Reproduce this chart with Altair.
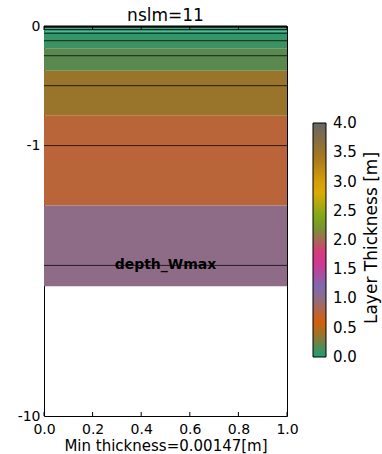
import math
import altair as alt
import pandas as pd

# ---------------- data ----------------
title_text = "nslm=11"
x_title = "Min thickness=0.00147[m]"
cbar_title = "Layer Thickness [m]"
wmax_label = "depth_Wmax"

# soil layer interfaces (m, positive downward)
layer_interfaces = [0.0, 0.00098, 0.0039, 0.0098, 0.0215, 0.045, 0.0919,
                    0.1857, 0.3734, 0.7488, 1.4995, 2.5005]
# node depths (m) drawn as thin lines
node_depths = [0.0, 0.00196, 0.00587, 0.0137, 0.0293, 0.0606, 0.1232,
               0.2483, 0.4985, 0.999, 2.0]
depth_wmax = [2.0]

y_tick_depths = [0, 1, 10]
y_tick_labels = ["0", "-1", "-10"]
x_tick_values = [0.0, 0.2, 0.4, 0.6, 0.8, 1.0]
cbar_ticks = [0.0, 0.5, 1.0, 1.5, 2.0, 2.5, 3.0, 3.5, 4.0]
dark2 = ["#1b9e77", "#d95f02", "#7570b3", "#e7298a",
         "#66a61e", "#e6ab02", "#a6761d", "#666666"]
cmin, cmax = 0.0, 4.0

# ---------------- symlog (matplotlib style, linthresh=2) ----------------
LINTHRESH = 2.0
K = 1.0 / (1.0 - 1.0 / 10.0)


def symlog(d):
    if d <= LINTHRESH:
        return d / LINTHRESH * K
    return K + math.log10(d / LINTHRESH)


def sym_expr(f):
    return (f"(datum.{f} <= {LINTHRESH} ? datum.{f} / {LINTHRESH} * {K} : "
            f"{K} + log(datum.{f} / {LINTHRESH}) / LN10)")


y_max = symlog(max(y_tick_depths))
y_vals = [symlog(d) for d in y_tick_depths]
label_expr = " : ".join(
    f"abs(datum.value - {v}) < 1e-6 ? '{lab}'" for v, lab in zip(y_vals, y_tick_labels)
) + " : ''"

W, H = 243, 390
FONT = "DejaVu Sans"

layers = pd.DataFrame({"top": layer_interfaces[:-1], "bottom": layer_interfaces[1:]})
layers["thickness"] = layers["bottom"] - layers["top"]
nodes = pd.DataFrame({"depth": node_depths})
wmax = pd.DataFrame({"depth": depth_wmax, "label": [wmax_label]})
xt = pd.DataFrame({"x": x_tick_values})
cb_title = pd.DataFrame({"t": [cbar_title]})

xscale = alt.Scale(domain=[0, 1], nice=False, zero=False)
yscale = alt.Scale(domain=[0, y_max], reverse=True, nice=False, zero=False)

x_axis = alt.Axis(values=x_tick_values, format=".1f", ticks=False, domain=False,
                  grid=False, labelFontSize=14, labelPadding=6, labelFlush=False,
                  labelOverlap=False, title=x_title, titleFontSize=15,
                  titleFontWeight="normal", titlePadding=2)
y_axis = alt.Axis(values=y_vals, labelExpr=label_expr, ticks=False, domain=False,
                  grid=False, labelFontSize=14, labelPadding=4, labelFlush=False,
                  labelOverlap=False, title=None)

# colour stops spread evenly over the colour range (tiny margin keeps end labels centred)
eps = 0.002
stops = [cmin + (cmax - cmin) * i / 7 for i in range(8)]
stops[0] -= eps
stops[-1] += eps
color_scale = alt.Scale(domain=stops, range=dark2, interpolate="rgb")
legend = alt.Legend(title=None, orient="none", legendX=269, legendY=97,
                    direction="vertical", gradientLength=234, gradientThickness=13,
                    gradientStrokeColor="black", gradientStrokeWidth=1,
                    values=cbar_ticks, format=".1f", labelFontSize=15, labelOffset=7,
                    labelOverlap=False)

rects = alt.Chart(layers).transform_calculate(
    y0=sym_expr("top"), y1=sym_expr("bottom")
).mark_rect().encode(
    x=alt.X(datum=0, type="quantitative", scale=xscale, axis=x_axis),
    x2=alt.X2(datum=1),
    y=alt.Y("y0:Q", scale=yscale, axis=y_axis),
    y2="y1:Q",
    color=alt.Color("thickness:Q", scale=color_scale, legend=legend),
)

lines = alt.Chart(nodes).transform_calculate(
    yy=sym_expr("depth")
).mark_rule(color="black", strokeWidth=1, opacity=0.75).encode(
    x=alt.X(datum=0, type="quantitative"),
    x2=alt.X2(datum=1),
    y="yy:Q",
)

text = alt.Chart(wmax).transform_calculate(
    yy=sym_expr("depth")
).mark_text(font=FONT, fontSize=14, fontWeight="bold", color="black",
            baseline="middle", align="center").encode(
    x=alt.X(datum=0.5, type="quantitative"),
    y="yy:Q",
    text="label:N",
)

cbar_label = alt.Chart(cb_title).mark_text(
    font=FONT, fontSize=17, color="black", angle=270,
    baseline="middle", align="center"
).encode(x=alt.value(328), y=alt.value(212), text="t:N")

ticks_top = alt.Chart(xt).mark_rule(color="black", strokeWidth=1).encode(
    x="x:Q", y=alt.value(0), y2=alt.value(4))
ticks_bot = alt.Chart(xt).mark_rule(color="black", strokeWidth=1).encode(
    x="x:Q", y=alt.value(H - 4), y2=alt.value(H))

chart = alt.layer(rects, lines, text, ticks_top, ticks_bot, cbar_label).properties(
    width=W, height=H,
    title=alt.TitleParams(title_text, fontSize=17, fontWeight="normal", font=FONT,
                          anchor="middle", offset=4, dy=10, color="black"),
    autosize=alt.AutoSizeParams(type="none"),
    padding={"left": 44, "top": 26, "right": 95, "bottom": 38},
).configure(font=FONT).configure_view(
    stroke="black", strokeWidth=1
).configure_axis(labelColor="black", titleColor="black", labelFont=FONT, titleFont=FONT
).configure_legend(labelColor="black", titleColor="black", labelFont=FONT, titleFont=FONT)

chart.save("out.html", embed_options={"renderer": "svg", "actions": False})
